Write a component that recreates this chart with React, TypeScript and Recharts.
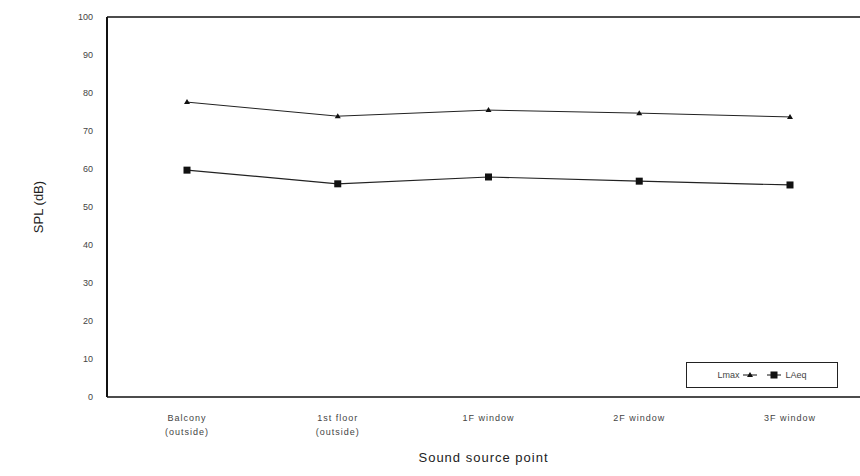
import { LineChart, Line, XAxis, YAxis, ReferenceLine, Label } from "recharts";

const categories = ["Balcony (outside)", "1st floor (outside)", "1F window", "2F window", "3F window"];
const lmax = [77.6, 73.9, 75.5, 74.7, 73.7];
const laeq = [59.7, 56.1, 57.9, 56.8, 55.8];
const yTicks = [0, 10, 20, 30, 40, 50, 60, 70, 80, 90, 100];

const data = categories.map((name, i) => ({ name, lmax: lmax[i], laeq: laeq[i] }));

const font = "'Liberation Sans', Arial, sans-serif";

function TriDot({ cx, cy }: { cx?: number; cy?: number }) {
  if (cx == null || cy == null) return null;
  return <path d={`M${cx - 3},${cy + 2} L${cx},${cy - 3} L${cx + 3},${cy + 2} Z`} fill="#111" />;
}

function SquareDot({ cx, cy }: { cx?: number; cy?: number }) {
  if (cx == null || cy == null) return null;
  return <rect x={cx - 3.5} y={cy - 3.5} width={7} height={7} fill="#111" />;
}

function XTick({ x, y, payload }: { x?: number; y?: number; payload?: { value: string } }) {
  const text = payload?.value ?? "";
  const m = text.match(/^(.*?)\s*(\(.*\))$/);
  const lines = m ? [m[1], m[2]] : [text];
  return (
    <text x={x} y={(y ?? 0) + 16} textAnchor="middle" fontSize={9} fill="#444" fontFamily={font} letterSpacing={1}>
      {lines.map((l, i) => (
        <tspan key={i} x={x} dy={i === 0 ? 0 : 14}>
          {l}
        </tspan>
      ))}
    </text>
  );
}

// legend sits inside the plot, bottom right; kept out of recharts layout
function LegendBox() {
  return (
    <div
      style={{
        position: "absolute",
        left: 686,
        top: 362,
        border: "1px solid #222",
        width: 152,
        height: 26,
        display: "flex",
        alignItems: "center",
        justifyContent: "center",
        gap: 10,
        fontFamily: font,
        fontSize: 9,
        color: "#444",
        boxSizing: "border-box",
        background: "#fff",
      }}
    >
      <span style={{ display: "flex", alignItems: "center", gap: 4 }}>
        Lmax
        <svg width={14} height={8}>
          <line x1={0} y1={4} x2={14} y2={4} stroke="#111" />
          <path d="M4,6 L7,1 L10,6 Z" fill="#111" />
        </svg>
      </span>
      <span style={{ display: "flex", alignItems: "center", gap: 4 }}>
        <svg width={14} height={8}>
          <line x1={0} y1={4} x2={14} y2={4} stroke="#111" />
          <rect x={3.5} y={0.5} width={7} height={7} fill="#111" />
        </svg>
        LAeq
      </span>
    </div>
  );
}

export default function App() {
  return (
    <div style={{ position: "absolute", left: 0, top: 0, width: 860, height: 476, background: "#fff" }}>
      <LineChart width={860} height={476} data={data} margin={{ top: 17, right: 0, left: 0, bottom: 0 }}>
        <XAxis
          dataKey="name"
          height={79}
          padding={{ left: 80, right: 70 }}
          stroke="#111"
          strokeWidth={1.5}
          tickLine={false}
          tick={<XTick />}
          interval={0}
        >
          <Label
            value="Sound source point"
            position="insideBottom"
            offset={14}
            style={{ fontFamily: font, fontSize: 13, fill: "#222", letterSpacing: 1 }}
          />
        </XAxis>
        <YAxis
          width={107}
          domain={[0, 100]}
          ticks={yTicks}
          stroke="#111"
          strokeWidth={2}
          tickSize={0}
          tickMargin={14}
          tick={{ fontSize: 9, fill: "#444", fontFamily: font }}
        >
          <Label
            value="SPL (dB)"
            angle={-90}
            position="insideLeft"
            offset={38}
            style={{ textAnchor: "middle", fontFamily: font, fontSize: 13, fill: "#222" }}
          />
        </YAxis>
        <ReferenceLine y={100} stroke="#111" strokeWidth={1.5} />
        <Line
          dataKey="lmax"
          name="Lmax"
          stroke="#222"
          strokeWidth={1}
          dot={<TriDot />}
          isAnimationActive={false}
        />
        <Line
          dataKey="laeq"
          name="LAeq"
          stroke="#222"
          strokeWidth={1.2}
          dot={<SquareDot />}
          isAnimationActive={false}
        />
      </LineChart>
      <LegendBox />
    </div>
  );
}
